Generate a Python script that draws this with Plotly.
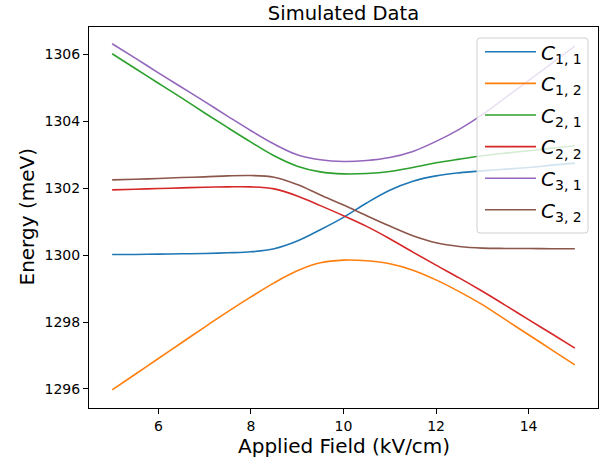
import plotly.graph_objects as go

# Applied field (kV/cm)
field = [5.0, 5.5, 6.0, 6.5, 7.0, 7.5, 8.0, 8.5, 9.0, 9.5, 10.0,
         10.5, 11.0, 11.5, 12.0, 12.5, 13.0, 13.5, 14.0, 14.5, 15.0]

# Energies (meV)
c11 = [1300.02, 1300.02, 1300.03, 1300.04, 1300.05, 1300.07, 1300.10, 1300.19, 1300.42, 1300.76, 1301.13,
       1301.56, 1301.94, 1302.21, 1302.37, 1302.46, 1302.52, 1302.57, 1302.62, 1302.69, 1302.75]
c12 = [1295.97, 1296.44, 1296.91, 1297.38, 1297.85, 1298.31, 1298.75, 1299.17, 1299.53, 1299.77, 1299.85,
       1299.83, 1299.74, 1299.55, 1299.26, 1298.91, 1298.52, 1298.07, 1297.62, 1297.17, 1296.72]
c21 = [1306.02, 1305.58, 1305.14, 1304.70, 1304.25, 1303.81, 1303.38, 1302.97, 1302.66, 1302.49, 1302.43,
       1302.44, 1302.50, 1302.62, 1302.76, 1302.87, 1302.97, 1303.05, 1303.12, 1303.20, 1303.27]
c22 = [1301.95, 1301.97, 1301.99, 1302.01, 1302.03, 1302.04, 1302.04, 1301.98, 1301.77, 1301.48, 1301.18,
       1300.86, 1300.49, 1300.09, 1299.70, 1299.32, 1298.92, 1298.50, 1298.07, 1297.65, 1297.22]
c31 = [1306.32, 1305.89, 1305.45, 1305.02, 1304.59, 1304.15, 1303.72, 1303.32, 1303.00, 1302.85, 1302.80,
       1302.83, 1302.92, 1303.10, 1303.40, 1303.76, 1304.20, 1304.71, 1305.22, 1305.73, 1306.25]
c32 = [1302.25, 1302.27, 1302.29, 1302.32, 1302.34, 1302.37, 1302.38, 1302.33, 1302.11, 1301.80, 1301.50,
       1301.18, 1300.87, 1300.58, 1300.37, 1300.26, 1300.21, 1300.20, 1300.20, 1300.19, 1300.19]

series = [c11, c12, c21, c22, c31, c32]
names = ["<i>C</i><sub>1, 1</sub>", "<i>C</i><sub>1, 2</sub>", "<i>C</i><sub>2, 1</sub>",
         "<i>C</i><sub>2, 2</sub>", "<i>C</i><sub>3, 1</sub>", "<i>C</i><sub>3, 2</sub>"]
colors = ["#1f77b4", "#ff7f0e", "#2ca02c", "#d62728", "#9467bd", "#8c564b"]

xticks = [6, 8, 10, 12, 14]
yticks = [1296, 1298, 1300, 1302, 1304, 1306]

FONT = "DejaVu Sans"

# plot area in pixels
L, R, T, B = 89, 598, 27, 408
W, H = 611, 464


def px(xp):
    return (xp - L) / (R - L)


def py(yp):
    return (B - yp) / (B - T)


fig = go.Figure()
for i, (ys, nm, col) in enumerate(zip(series, names, colors)):
    fig.add_trace(go.Scatter(x=field, y=ys, mode="lines", name=nm, legendgroup=f"g{i}",
                             line=dict(color=col, width=1.6, shape="spline", smoothing=1.0)))

axis_common = dict(showline=True, mirror=True, linecolor="black", linewidth=1,
                   ticks="outside", ticklen=5, tickwidth=1, tickcolor="black",
                   showgrid=False, zeroline=False, automargin=False,
                   tickfont=dict(family=FONT, size=14, color="black"))

# rounded legend frame (matplotlib style)
x0, x1, y0, y1, r = 477, 588, 38, 233, 3
frame = (f"M{px(x0 + r)},{py(y0)} L{px(x1 - r)},{py(y0)} Q{px(x1)},{py(y0)} {px(x1)},{py(y0 + r)} "
         f"L{px(x1)},{py(y1 - r)} Q{px(x1)},{py(y1)} {px(x1 - r)},{py(y1)} "
         f"L{px(x0 + r)},{py(y1)} Q{px(x0)},{py(y1)} {px(x0)},{py(y1 - r)} "
         f"L{px(x0)},{py(y0 + r)} Q{px(x0)},{py(y0)} {px(x0 + r)},{py(y0)} Z")

fig.update_layout(
    width=W, height=H,
    margin=dict(l=L, r=W - R, t=T, b=H - B),
    paper_bgcolor="white", plot_bgcolor="white",
    font=dict(family=FONT, color="black"),
    title=dict(text="Simulated Data", x=(L + R) / 2 / W, xanchor="center",
               y=1 - 13 / H, yanchor="middle", yref="container",
               font=dict(family=FONT, size=19.5, color="black")),
    xaxis=dict(range=[4.5, 15.5], tickvals=xticks, ticktext=[str(v) for v in xticks],
               **axis_common),
    yaxis=dict(range=[1295.43, 1306.82], tickvals=yticks, ticktext=[str(v) for v in yticks],
               **axis_common),
    legend=dict(x=px(480), y=py(32.3), xanchor="left", yanchor="top",
                bgcolor="rgba(0,0,0,0)", borderwidth=0,
                tracegroupgap=2.6, itemwidth=51,
                font=dict(family=FONT, size=20, color="black")),
    showlegend=True,
    shapes=[dict(type="path", path=frame, xref="paper", yref="paper", layer="above",
                 fillcolor="rgba(255,255,255,0.8)", line=dict(color="#d0d0d0", width=1))],
    annotations=[
        dict(text="Applied Field (kV/cm)", xref="paper", yref="paper", x=0.5,
             y=py(446), xanchor="center", yanchor="middle", showarrow=False,
             font=dict(family=FONT, size=20, color="black")),
        dict(text="Energy (meV)", xref="paper", yref="paper", x=px(26),
             y=0.5, xanchor="center", yanchor="middle", textangle=-90, showarrow=False,
             font=dict(family=FONT, size=20, color="black")),
    ],
)

fig.write_html("out.html", config={"displayModeBar": False},
               post_script="document.body.style.margin='0';")
